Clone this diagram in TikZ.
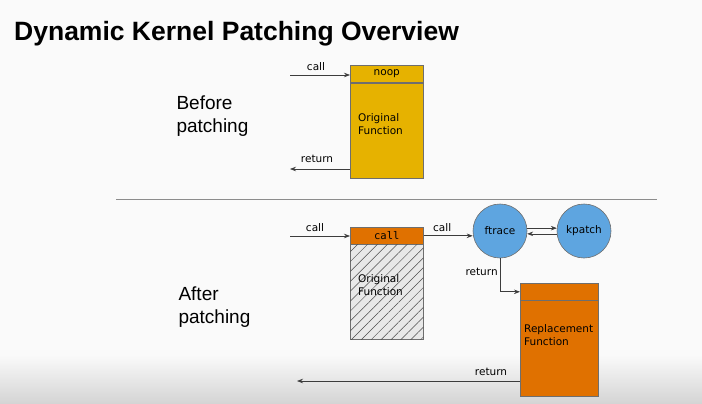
\documentclass[tikz,border=0pt]{standalone}
\usepackage{fontspec}
\setmainfont{DejaVu Sans}
\setmonofont{DejaVu Sans Mono}
\newfontfamily\headfont{Liberation Sans}
\usetikzlibrary{arrows.meta,patterns.meta}

\definecolor{bgpage}{RGB}{250,250,250}
\definecolor{goldfn}{RGB}{230,178,0}
\definecolor{orangefn}{RGB}{224,113,0}
\definecolor{bluefn}{RGB}{94,165,224}
\definecolor{hatchgray}{RGB}{232,232,232}
\definecolor{edgegray}{RGB}{110,110,110}
\definecolor{linegray}{RGB}{60,60,60}

\tikzset{
  lbl/.style={font=\fontsize{10.5}{13}\selectfont, inner sep=2pt},
  bigtext/.style={font=\headfont\fontsize{19}{23}\selectfont, align=left, anchor=west},
  fnhead/.style={draw=edgegray, line width=0.6pt, minimum width=73pt, minimum height=17pt,
    inner sep=0pt, anchor=north west, font=\fontsize{10.5}{12}\selectfont},
  fnbody/.style={draw=edgegray, line width=0.6pt, minimum width=73pt, minimum height=95pt,
    inner sep=0pt, anchor=north west},
  fntext/.style={lbl, anchor=west, align=left},
  tracer/.style={circle, draw=edgegray, line width=0.6pt, fill=bluefn, minimum size=54pt,
    inner sep=0pt, font=\fontsize{10.5}{12}\selectfont},
  arr/.style={draw=linegray, line width=0.7pt, -{Stealth[length=6pt,width=4.5pt]}},
  sepline/.style={draw=black!45, line width=0.7pt}
}

\begin{document}
\begin{tikzpicture}[x=1pt,y=-1pt]
% page and the dark band at the bottom
\fill[bgpage] (0,0) rectangle (702,404);
\shade[top color=bgpage, bottom color=black!17] (0,355) rectangle (702,404);
\useasboundingbox (0,0) rectangle (702,404);

\node[anchor=base west, inner sep=0pt, font=\headfont\bfseries\fontsize{26.5}{30}\selectfont] (title) at (14,41) {Dynamic Kernel Patching Overview};

% before patching
\node[bigtext] (before) at (173,116) {Before\\patching};
\node[fnhead, fill=goldfn] (noop) at (350,65) {noop};
\node[fnbody, fill=goldfn] (orig) at (350,83) {};
\node[fntext] (origtxt) at (356,124) {Original\\Function};
\coordinate (callin) at (290,75);
\coordinate (retout) at (290,169);
\draw[arr] (callin) -- (callin -| noop.west) node[midway, above=2pt, lbl, xshift=-4pt] {call};
\draw[arr] (retout -| orig.west) -- (retout) node[midway, above=4pt, lbl, xshift=-3pt] {return};

\draw[sepline] (116,199) coordinate (sepa) -- (657,199) coordinate (sepb);

% after patching
\node[bigtext] (after) at (175,307) {After\\patching};
\node[fnhead, fill=orangefn] (hook) at (350,227) {\ttfamily call};
\node[fnbody, fill=hatchgray,
  postaction={pattern={Lines[angle=45,distance=7pt,line width=0.5pt]}, pattern color=black!70}] (old) at (350,244) {};
\node[fntext] (oldtxt) at (356,285) {Original\\Function};
\coordinate (callin2) at (290,236);
\draw[arr] (callin2) -- (callin2 -| hook.west) node[midway, above=2pt, lbl, xshift=-5pt] {call};

\node[tracer] (ftrace) at (500,231) {ftrace};
\node[tracer] (kpatch) at (584,231) {kpatch};
\draw[arr] (hook.east) -- (hook.east -| ftrace.west) node[midway, above=2pt, lbl, xshift=-6pt] {call};
\draw[arr] (ftrace.6) -- (kpatch.174);
\draw[arr] (kpatch.186) -- (ftrace.-6);

\node[fnhead, fill=orangefn, minimum width=78pt] (rhead) at (520,283) {};
\node[fnbody, fill=orangefn, minimum width=78pt, minimum height=96pt] (repl) at (520,300) {};
\node[fntext] (repltxt) at (522,335) {Replacement\\Function};
\draw[arr] (ftrace.south) |- (rhead.west) node[pos=0.2, left, lbl] {return};
\coordinate (retend) at (297,381);
\draw[arr] (repl.west |- retend) -- (retend) node[pos=0.13, above=3pt, lbl] {return};
\end{tikzpicture}
\end{document}
